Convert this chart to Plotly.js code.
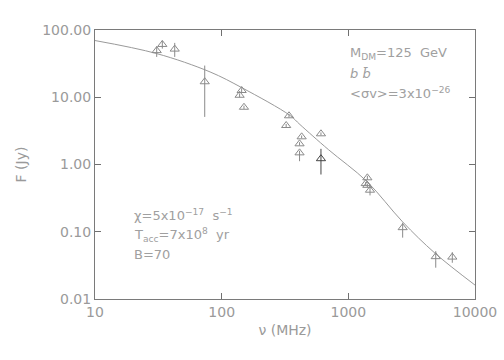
<!DOCTYPE html>
<html>
<head>
<meta charset="utf-8">
<script src="https://cdn.plot.ly/plotly-3.0.1.min.js"></script>
<style>html,body{margin:0;padding:0;background:#fff}#plot{width:504px;height:360px}</style>
</head>
<body>
<div id="plot"></div>
<script>
// Observed flux densities (MHz, Jy) with upper/lower error-bar ends
const nu      = [30.7, 34, 42.6, 73.5, 143.8, 138.6, 150, 340, 323, 412, 412, 428, 608, 1413, 1371, 1413, 1483, 2685, 4898, 6620];
const flux    = [49.4, 61, 52, 17, 12.6, 10.7, 7.1, 5.3, 3.8, 2.03, 1.49, 2.58, 2.86, 0.634, 0.52, 0.49, 0.415, 0.115, 0.0426, 0.042];
const fluxHi  = [57.3, 69.5, 64.3, 29.6, 13.6, 11.4, 7.5, 5.6, 4.0, 2.15, 1.6, 2.7, 3.0, 0.68, 0.55, 0.52, 0.505, 0.136, 0.0515, 0.0498];
const fluxLo  = [39.8, 52.9, 39.8, 5.1, 11.7, 10.0, 6.7, 5.0, 3.6, 1.92, 1.12, 2.46, 2.72, 0.59, 0.49, 0.46, 0.347, 0.0817, 0.0292, 0.0346];
// Highlighted (dark) measurement
const nuDark = [608], fluxDark = [1.22], fluxDarkHi = [1.71], fluxDarkLo = [0.71];
// Model curve
const modelNu   = [10, 30.7, 81, 145, 347, 415, 695, 1400, 2685, 4830, 10000];
const modelFlux = [69.7, 44.6, 23.8, 13.8, 5.35, 3.93, 1.67, 0.56, 0.14, 0.048, 0.0161];

const gray = '#9a9a9a';
const axisCol = '#7a7a7a';
const font = 'DejaVu Sans, sans-serif';

const traces = [
  {x: modelNu, y: modelFlux, mode: 'lines', line: {color: '#9a9a9a', width: 1, shape: 'spline'}, hoverinfo: 'skip'},
  {x: nu, y: flux, mode: 'markers', type: 'scatter',
   marker: {symbol: 'triangle-up-open', size: 8, color: '#8a8a8a', line: {width: 1, color: '#8a8a8a'}},
   error_y: {type: 'data', symmetric: false,
     array: flux.map((f, i) => fluxHi[i] - f), arrayminus: flux.map((f, i) => f - fluxLo[i]),
     color: '#8a8a8a', thickness: 1, width: 0}},
  {x: nuDark, y: fluxDark, mode: 'markers', type: 'scatter',
   marker: {symbol: 'triangle-up-open', size: 8, color: '#444', line: {width: 1, color: '#444'}},
   error_y: {type: 'data', symmetric: false,
     array: fluxDark.map((f, i) => fluxDarkHi[i] - f), arrayminus: fluxDark.map((f, i) => f - fluxDarkLo[i]),
     color: '#444', thickness: 1, width: 0}}
];

const ann = (x, y, t) => ({xref: 'paper', yref: 'paper', x: x, y: y, xanchor: 'left', yanchor: 'middle',
  text: t, showarrow: false, font: {family: font, size: 13, color: '#a0a0a0'}});

const axisCommon = {
  type: 'log', dtick: 1,
  ticks: 'inside', ticklen: 6, tickwidth: 1, tickcolor: '#707070', showline: true, linecolor: axisCol, linewidth: 1,
  mirror: 'ticks', showgrid: false, zeroline: false
};

const layout = {
  width: 504, height: 360,
  margin: {l: 95, r: 29, t: 30, b: 61},
  paper_bgcolor: '#fff', plot_bgcolor: '#fff',
  showlegend: false,
  font: {family: font, size: 14, color: gray},
  xaxis: Object.assign({}, axisCommon, {range: [1, 4], tickformat: 'd',
    title: {text: 'ν (MHz)', font: {family: font, size: 14, color: gray}, standoff: 6}}),
  yaxis: Object.assign({}, axisCommon, {range: [-2, 2], tickformat: '.2f',
    title: {text: 'F (Jy)', font: {family: font, size: 14, color: gray}, standoff: 12}}),
  annotations: [
    ann(0.666, 0.914, 'M<sub>DM</sub>=125  GeV'),
    ann(0.666, 0.840, '<i>b b̄</i>'),
    ann(0.666, 0.766, '&lt;σv&gt;=3x10<sup>−26</sup>'),
    ann(0.097, 0.312, 'χ=5x10<sup>−17</sup>  s<sup>−1</sup>'),
    ann(0.097, 0.238, 'T<sub>acc</sub>=7x10<sup>8</sup>  yr'),
    ann(0.097, 0.164, 'B=70')
  ]
};

Plotly.newPlot('plot', traces, layout, {displayModeBar: false});
</script>
</body>
</html>
